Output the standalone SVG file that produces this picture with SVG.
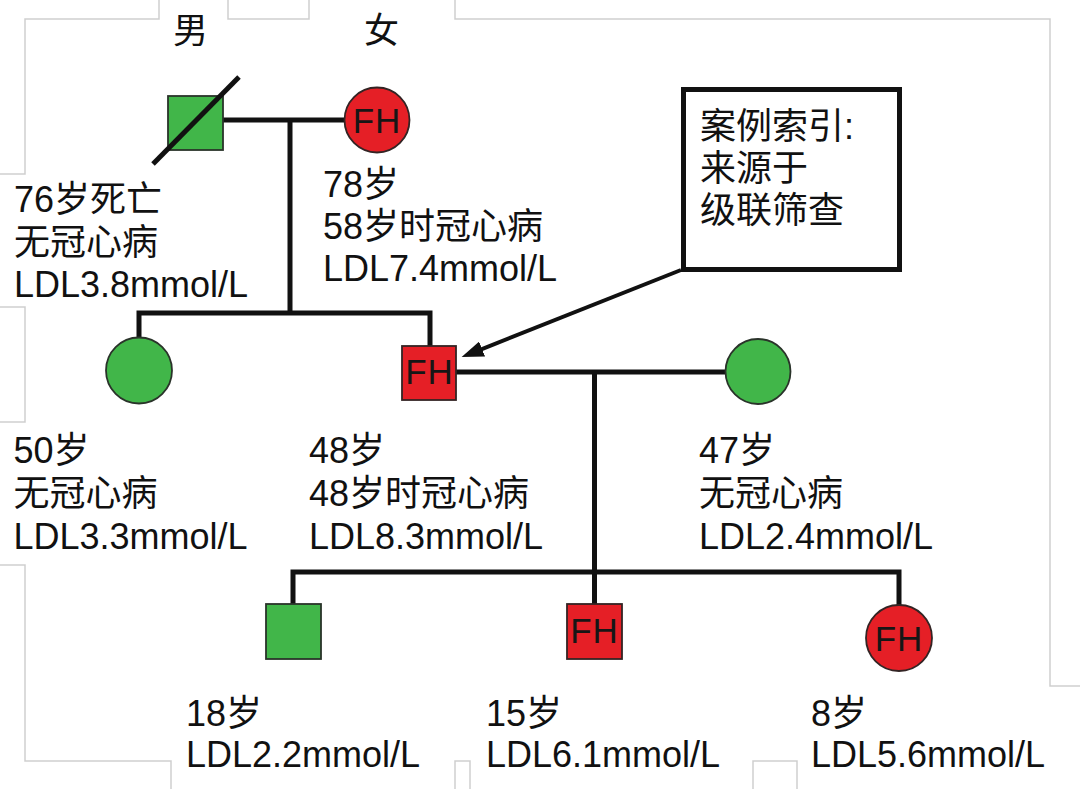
<svg xmlns="http://www.w3.org/2000/svg" width="1080" height="789" viewBox="0 0 1080 789">
  <defs>
    <style>
      .txt { font-family: "Liberation Sans", "Noto Sans CJK SC", sans-serif; font-size: 36px; fill: #111; }
      .fh { font-family: "Liberation Sans", "Noto Sans CJK SC", sans-serif; font-size: 35px; fill: #161616; letter-spacing: 1px; text-anchor: middle; }
      .green { fill: #41b649; stroke: #2a332a; stroke-width: 1.8; }
      .red { fill: #e51f26; stroke: #332424; stroke-width: 1.8; }
      .conn { fill: none; stroke: #111; stroke-width: 5; }
      .frame { fill: none; stroke: #cfcfcf; stroke-width: 1.5; }
    </style>
    <marker id="arrow" viewBox="0 0 22 16" markerWidth="22" markerHeight="16" markerUnits="userSpaceOnUse" refX="13" refY="8" orient="auto">
      <path d="M0,0 L22,8 L0,16 z" fill="#111"/>
    </marker>
  </defs>
  <rect width="1080" height="789" fill="#fff"/>

  <g id="frame-artifacts">
    <polyline class="frame" points="0,174 25,174 25,19 159,19 159,0"/>
    <polyline class="frame" points="228,0 228,19 309,19 309,0"/>
    <polyline class="frame" points="455,0 455,19 1050,19 1050,686 1080,686"/>
    <polyline class="frame" points="0,307 25,307 25,422 0,422"/>
    <polyline class="frame" points="0,565 25,565 25,761 171,761 171,789"/>
    <polyline class="frame" points="455,789 455,761 470,761 470,789"/>
    <polyline class="frame" points="753,789 753,761 797,761 797,789"/>
  </g>

  <g id="legend">
    <text class="txt" x="173" y="43" style="font-size:35px">男</text>
    <text class="txt" x="364" y="43" style="font-size:35px">女</text>
  </g>

  <g id="connectors">
    <line class="conn" x1="223" y1="120" x2="345" y2="120"/>
    <line class="conn" x1="290" y1="120" x2="290" y2="313"/>
    <path class="conn" d="M139,338 V313 H430 V346"/>
    <line class="conn" x1="456" y1="372" x2="726" y2="372"/>
    <line class="conn" x1="594.5" y1="372" x2="594.5" y2="604"/>
    <path class="conn" d="M293,604 V572 H899 V605"/>
    <line x1="681" y1="270" x2="470" y2="353.8" stroke="#111" stroke-width="4" marker-end="url(#arrow)"/>
  </g>

  <g id="grandfather">
    <rect class="green" x="168" y="96" width="55" height="54"/>
    <line x1="153" y1="164" x2="239" y2="77" stroke="#111" stroke-width="5"/>
    <text class="txt" x="14" y="212">76岁死亡</text>
    <text class="txt" x="14" y="254.5">无冠心病</text>
    <text class="txt" x="14" y="297">LDL3.8mmol/L</text>
  </g>

  <g id="grandmother">
    <circle class="red" cx="377" cy="120" r="32.5"/>
    <text class="fh" x="377" y="133">FH</text>
    <text class="txt" x="323" y="197">78岁</text>
    <text class="txt" x="323" y="239">58岁时冠心病</text>
    <text class="txt" x="323" y="281">LDL7.4mmol/L</text>
  </g>

  <g id="proband-note">
    <rect x="683.5" y="89.5" width="216" height="180" fill="#fff" stroke="#111" stroke-width="5"/>
    <text class="txt" x="700" y="139">案例索引:</text>
    <text class="txt" x="700" y="181">来源于</text>
    <text class="txt" x="700" y="223">级联筛查</text>
  </g>

  <g id="aunt">
    <circle class="green" cx="139" cy="370.5" r="33"/>
    <text class="txt" x="13.5" y="463">50岁</text>
    <text class="txt" x="13.5" y="506">无冠心病</text>
    <text class="txt" x="13.5" y="549">LDL3.3mmol/L</text>
  </g>

  <g id="proband">
    <rect class="red" x="402" y="346" width="54" height="54"/>
    <text class="fh" x="429.5" y="384">FH</text>
    <text class="txt" x="309" y="463">48岁</text>
    <text class="txt" x="309" y="506">48岁时冠心病</text>
    <text class="txt" x="309" y="549">LDL8.3mmol/L</text>
  </g>

  <g id="spouse">
    <circle class="green" cx="758" cy="371.5" r="32.5"/>
    <text class="txt" x="699" y="463">47岁</text>
    <text class="txt" x="699" y="506">无冠心病</text>
    <text class="txt" x="699" y="549">LDL2.4mmol/L</text>
  </g>

  <g id="son18">
    <rect class="green" x="266" y="604" width="55" height="55"/>
    <text class="txt" x="186" y="726">18岁</text>
    <text class="txt" x="186" y="767">LDL2.2mmol/L</text>
  </g>

  <g id="son15">
    <rect class="red" x="567" y="604" width="55" height="55"/>
    <text class="fh" x="594.5" y="643">FH</text>
    <text class="txt" x="486" y="726">15岁</text>
    <text class="txt" x="486" y="767">LDL6.1mmol/L</text>
  </g>

  <g id="daughter8">
    <circle class="red" cx="899" cy="638" r="33"/>
    <text class="fh" x="899" y="651">FH</text>
    <text class="txt" x="811" y="726">8岁</text>
    <text class="txt" x="811" y="767">LDL5.6mmol/L</text>
  </g>
</svg>
